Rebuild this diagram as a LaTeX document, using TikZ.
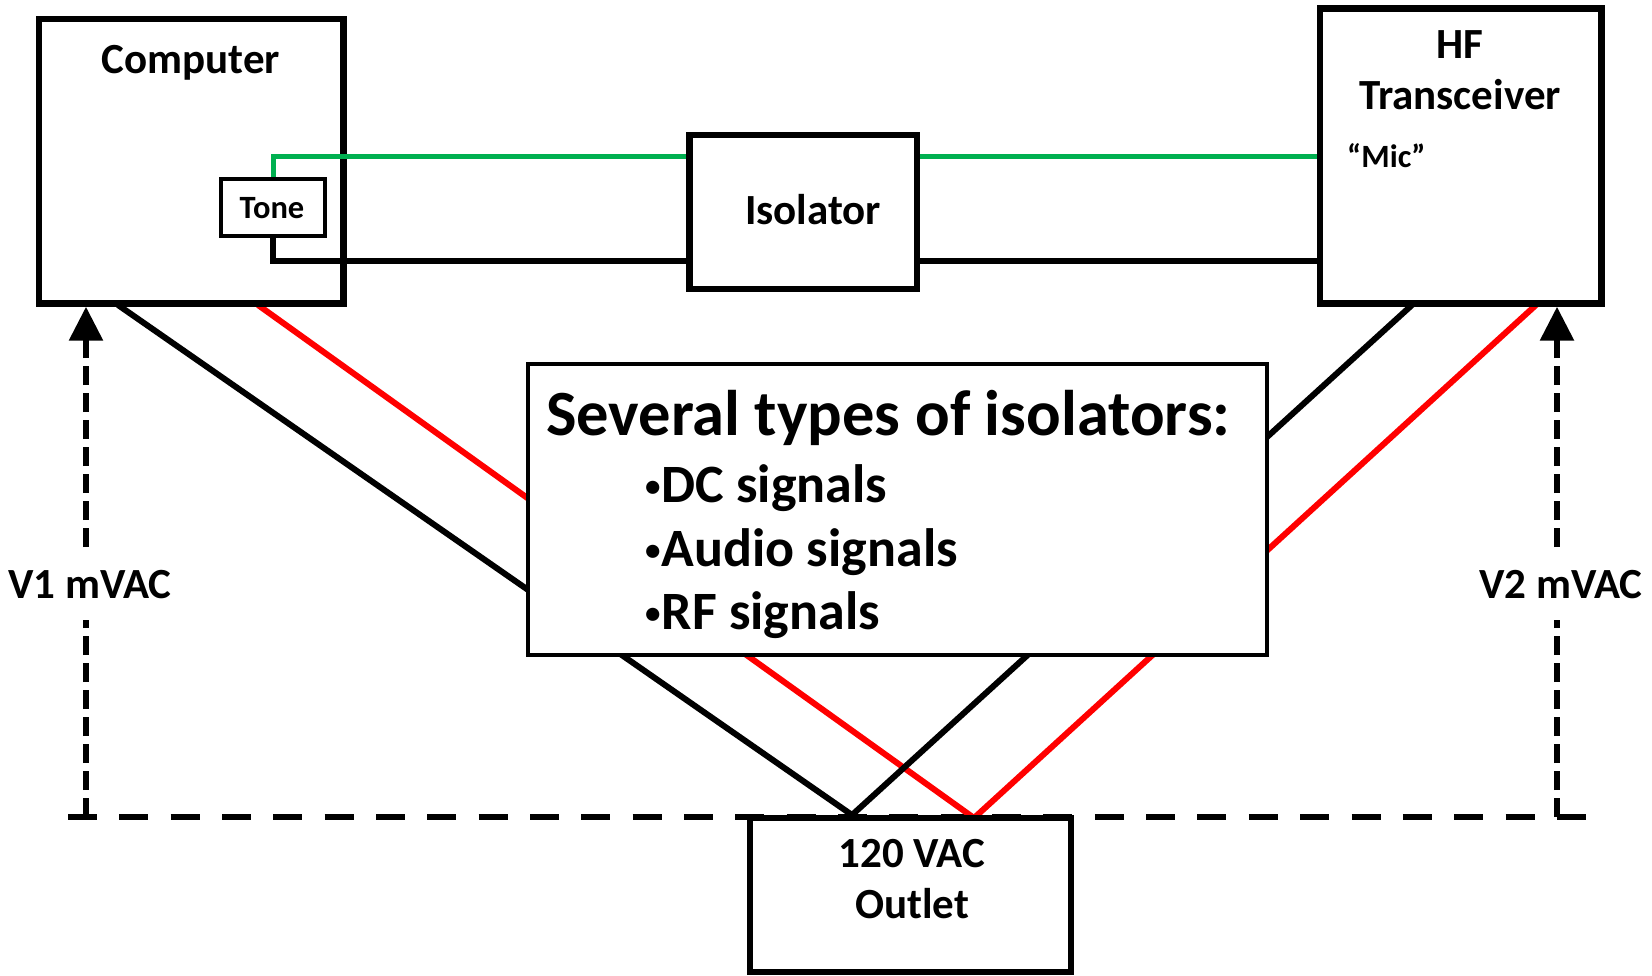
\documentclass[tikz,border=0pt]{standalone}
\usepackage{fontspec}
\setmainfont{Carlito}
\usetikzlibrary{arrows.meta}
\definecolor{sigg}{RGB}{0,176,80}
\definecolor{pwr}{RGB}{255,0,0}
\newcommand{\smbul}{\raisebox{6pt}{\fontsize{31}{31}\selectfont •}\hspace{1pt}}
\begin{document}
\begin{tikzpicture}[x=1pt,y=-1pt,
  box/.style={draw, rectangle, line width=6.5pt, inner sep=0pt},
  lbl/.style={inner sep=0pt, font=\bfseries\fontsize{43}{52}\selectfont},
  small/.style={inner sep=0pt, font=\bfseries\fontsize{32.5}{39}\selectfont},
  title/.style={inner sep=0pt, font=\bfseries\fontsize{64.5}{77}\selectfont},
  item/.style={inner sep=0pt, font=\bfseries\fontsize{54}{64}\selectfont},
  wire/.style={line width=6pt},
  redwire/.style={line width=6pt, draw=pwr},
  sig/.style={line width=5pt, draw=sigg},
  vdash/.style={line width=6pt, dash pattern=on 19pt off 8pt},
  hdash/.style={line width=6pt, dash pattern=on 29pt off 22.34pt},
  vlabel/.style={lbl, fill=white, inner xsep=2pt, inner ysep=22pt}
]
\useasboundingbox (0,0) rectangle (1652,976);

% coordinates
\coordinate (bl) at (68,817);
\coordinate (br) at (1586,817);
\coordinate (lc) at (86,817);
\coordinate (rc) at (1557,817);
\coordinate (cb) at (118,305);
\coordinate (cr) at (258,305);
\coordinate (hb) at (1412,305);
\coordinate (hr) at (1536,305);
\coordinate (ob) at (852,815);
\coordinate (orr) at (974,818);

% ground reference line
\draw[hdash] (bl) -- (br);

% power cords
\draw[wire] (cb) -- (ob);
\draw[redwire] (cr) -- (orr);
\draw[wire] (hb) -- (ob);
\draw[redwire] (hr) -- (orr);

% info box
\node[box, line width=4pt, fill=white, minimum width=738.5pt, minimum height=290.5pt] (big) at (897.25,509.25) {};
\node[title, anchor=base west] (ttl) at (546,435) {Several types of isolators:};
\node[item, anchor=base west] (i1) at (645,502) {\smbul DC signals};
\node[item, anchor=base west] (i2) at (645,566) {\smbul Audio signals};
\node[item, anchor=base west] (i3) at (645,629) {\smbul RF signals};

% boxes
\node[box, minimum width=304.5pt, minimum height=284.5pt] (comp) at (191.25,161.25) {};
\node[box, minimum width=227.5pt, minimum height=154pt] (iso) at (803.25,212) {};
\node[box, minimum width=281.7pt, minimum height=295.2pt] (hf) at (1460.85,155.9) {};
\node[box, minimum width=321pt, minimum height=154pt] (outlet) at (910.5,895) {};
\node[box, line width=3.5pt, fill=white, minimum width=104pt, minimum height=57pt] (tone) at (273,207.5) {};

% signal wires
\draw[sig] (tone.north) |- ([yshift=55pt]iso.west);
\draw[sig] ([yshift=55pt]iso.east) -- ([yshift=55pt]iso.east -| hf.west);
\draw[wire] (tone.south) |- ([yshift=-49pt]iso.west);
\draw[wire] ([yshift=-49pt]iso.east) -- ([yshift=-49pt]iso.east -| hf.west);

% texts
\node[lbl, anchor=base] (tcomp) at (191,74) {Computer};
\node[lbl, anchor=base] (thf1) at (1460,58.5) {HF};
\node[lbl, anchor=base] (thf2) at (1460,110) {Transceiver};
\node[small, anchor=base west] (tmic) at (1347,168) {“Mic”};
\node[lbl, anchor=base] (tiso) at (813,225) {Isolator};
\node[small, anchor=base] (ttone) at (272,219) {Tone};
\node[lbl, anchor=base] (tout1) at (912,867) {120 VAC};
\node[lbl, anchor=base] (tout2) at (912,918.5) {Outlet};

% voltage arrows
\draw[vdash, -{Triangle[width=33pt,length=34pt]}] (lc) -- (comp.south -| lc);
\draw[vdash, -{Triangle[width=33pt,length=34pt]}] (rc) -- (hf.south -| rc);
\node[vlabel, anchor=base] (v1) at (90,598) {V1 mVAC};
\node[vlabel, anchor=base] (v2) at (1561,598) {V2 mVAC};
\end{tikzpicture}
\end{document}
